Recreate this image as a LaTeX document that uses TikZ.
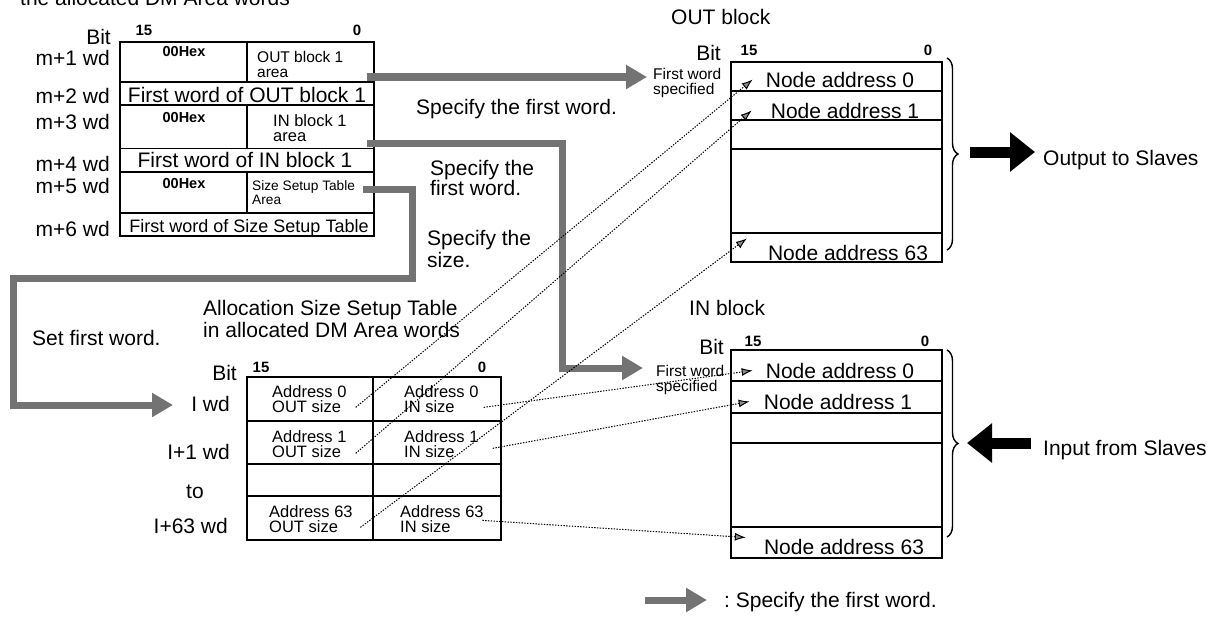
\documentclass[tikz,border=0pt]{standalone}
\usepackage{fontspec}
\setmainfont{Liberation Sans}
\usetikzlibrary{arrows.meta,decorations.pathreplacing}
\begin{document}
\begin{tikzpicture}[x=1pt,y=-1pt,
  txt/.style={inner sep=0pt, font=\fontsize{21}{22}\selectfont},
  txtb/.style={inner sep=0pt, font=\fontsize{18}{20}\selectfont},
  sml/.style={inner sep=0pt, align=left, font=\fontsize{16.5}{15}\selectfont},
  tight/.style={inner sep=0pt, align=left, font=\fontsize{15.5}{14.5}\selectfont},
  tiny/.style={inner sep=0pt, align=left, font=\fontsize{13.7}{12}\selectfont},
  bitnum/.style={inner sep=0pt, font=\fontsize{15}{15}\selectfont\bfseries},
  hex/.style={inner sep=0pt, font=\fontsize{14.5}{15}\selectfont\bfseries},
  tbl/.style={line width=1.6pt},
  grayarrow/.style={draw=black!55, line width=7pt, line join=miter, -{Triangle[length=21pt,width=23pt]}},
  ptr/.style={line width=1pt, dash pattern=on 1.4pt off 1.4pt, -{Latex[length=11pt,width=8pt,fill=black!45]}},
  bigarrow/.style={line width=11pt, -{Triangle[length=25pt,width=38pt]}},
  brc/.style={decorate, decoration={brace, amplitude=11pt}, line width=1.4pt}]
\fill[white] (0,0) rectangle (1218,618);
\useasboundingbox (0,0) rectangle (1218,618);

% ---------- top-left table ----------
\node[txt, anchor=base west] (title) at (20,6) {the allocated DM Area words};
\node[txt, anchor=base east] (bitA) at (111,44.5) {Bit};
\node[bitnum, anchor=base] (hiA) at (144,36) {15};
\node[bitnum, anchor=base] (loA) at (357,36) {0};
\node[txt, anchor=base east] (m1) at (110,65.5) {m+1 wd};
\node[txt, anchor=base east] (m2) at (110,103.5) {m+2 wd};
\node[txt, anchor=base east] (m3) at (110,129.5) {m+3 wd};
\node[txt, anchor=base east] (m4) at (110,171.5) {m+4 wd};
\node[txt, anchor=base east] (m5) at (110,193.5) {m+5 wd};
\node[txt, anchor=base east] (m6) at (110,236.5) {m+6 wd};

\draw[tbl] (120,42) rectangle (374,236);
\draw[tbl] (120,82) -- (374,82) (120,105) -- (374,105) (120,148.5) -- (374,148.5)
           (120,172) -- (374,172) (120,213) -- (374,213);
\draw[tbl] (247,42) -- (247,82) (247,105) -- (247,148.5) (247,172) -- (247,213);

\node[hex, anchor=base] (hx1) at (184,57) {00Hex};
\node[hex, anchor=base] (hx2) at (184,122) {00Hex};
\node[hex, anchor=base] (hx3) at (184,188) {00Hex};
\node[tight, anchor=base west] (ob1) at (257,77.5) {OUT block 1\\area};
\node[sml, anchor=base west] (ib1) at (273,141) {IN block 1\\area};
\node[tiny, anchor=base west] (sst) at (252,204) {Size Setup Table\\Area};
\node[txt, anchor=base] (fwo) at (247,102) {First word of OUT block 1};
\node[txt, anchor=base] (fwi) at (245,167) {First word of IN block 1};
\node[txtb, anchor=base] (fws) at (249,232) {First word of Size Setup Table};

% ---------- middle labels ----------
\node[txt, anchor=base west] (sp1) at (416,114) {Specify the first word.};
\node[txt, anchor=base west, align=left, font=\fontsize{21}{20}\selectfont] (sp2) at (430,195) {Specify the\\first word.};
\node[txt, anchor=base west, align=left, font=\fontsize{21}{22}\selectfont] (sp3) at (427,267) {Specify the\\size.};
\node[txt, anchor=base west] (sfw) at (32,345) {Set first word.};

% ---------- lower table ----------
\node[txt, anchor=base west, align=left, font=\fontsize{21}{22}\selectfont] (alloc) at (203,337) {Allocation Size Setup Table\\in allocated DM Area words};
\node[txt, anchor=base east] (bitC) at (237,380) {Bit};
\node[bitnum, anchor=base] (hiC) at (261,372) {15};
\node[bitnum, anchor=base] (loC) at (482,372) {0};
\node[txt, anchor=base east] (l0) at (230,411) {I wd};
\node[txt, anchor=base east] (l1) at (230,459) {I+1 wd};
\node[txt, anchor=base] (lto) at (195,498) {to};
\node[txt, anchor=base east] (l63) at (228,533) {I+63 wd};

\draw[tbl] (247,377) rectangle (501,540);
\draw[tbl] (247,421) -- (501,421) (247,464) -- (501,464) (247,496) -- (501,496);
\draw[tbl] (373,377) -- (373,540);

\node[sml, anchor=base west] (ao0) at (272,412) {Address 0\\OUT size};
\node[sml, anchor=base west] (ai0) at (404,412) {Address 0\\IN size};
\node[sml, anchor=base west] (ao1) at (272,457) {Address 1\\OUT size};
\node[sml, anchor=base west] (ai1) at (404,457) {Address 1\\IN size};
\node[sml, anchor=base west] (ao63) at (269,532) {Address 63\\OUT size};
\node[sml, anchor=base west] (ai63) at (400,532) {Address 63\\IN size};

% ---------- OUT block ----------
\node[txt, anchor=base west] (outt) at (671,25) {OUT block};
\node[txt, anchor=base east] (bitB) at (721,61) {Bit};
\node[bitnum, anchor=base] (hiB) at (749,56) {15};
\node[bitnum, anchor=base] (loB) at (928,56) {0};
\node[tight, anchor=base west] (fw1) at (653,94.5) {First word\\specified};
\draw[tbl] (731,62) rectangle (942,262);
\draw[tbl] (731,91) -- (942,91) (731,120) -- (942,120) (731,149) -- (942,149) (731,233) -- (942,233);
\node[txt, anchor=base] (n0) at (840,87) {Node address 0};
\node[txt, anchor=base] (n1) at (845,118) {Node address 1};
\node[txt, anchor=base] (n63) at (848,260) {Node address 63};
\draw[brc] (947,58) -- (947,250);
\node[txt, anchor=base west] (outs) at (1043,165) {Output to Slaves};
\coordinate (bo1) at (970,152);
\coordinate (bo2) at (1035,152);
\draw[bigarrow] (bo1) -- (bo2);

% ---------- IN block ----------
\node[txt, anchor=base west] (int) at (689,315) {IN block};
\node[txt, anchor=base east] (bitD) at (724,354) {Bit};
\node[bitnum, anchor=base] (hiD) at (753,346) {15};
\node[bitnum, anchor=base] (loD) at (925,346) {0};
\node[tight, anchor=base west] (fw2) at (656,391) {First word\\specified};
\draw[tbl] (731,350) rectangle (942,558);
\draw[tbl] (731,381) -- (942,381) (731,413) -- (942,413) (731,443) -- (942,443) (731,527) -- (942,527);
\node[txt, anchor=base] (in0) at (840,378) {Node address 0};
\node[txt, anchor=base] (in1) at (838,409) {Node address 1};
\node[txt, anchor=base] (in63) at (844,554) {Node address 63};
\draw[brc] (947,350) -- (947,537);
\node[txt, anchor=base west] (ins) at (1043,455) {Input from Slaves};
\coordinate (bi1) at (1031,443);
\coordinate (bi2) at (967,443);
\draw[bigarrow] (bi1) -- (bi2);

% ---------- gray arrows ----------
\coordinate (g1s) at (367,77);
\coordinate (g1e) at (647,77);
\draw[grayarrow] (g1s) -- (g1e);
\coordinate (g2s) at (367,143);
\coordinate (g2a) at (562,143);
\coordinate (g2b) at (562,368);
\coordinate (g2e) at (643,368);
\draw[grayarrow] (g2s) -- (g2a) -- (g2b) -- (g2e);
\coordinate (g3s) at (363,189);
\coordinate (g3a) at (412,189);
\coordinate (g3b) at (412,278);
\coordinate (g3c) at (13,278);
\coordinate (g3d) at (13,405);
\coordinate (g3e) at (173,405);
\draw[grayarrow] (g3s) -- (g3a) -- (g3b) -- (g3c) -- (g3d) -- (g3e);

% ---------- dotted pointers ----------
\draw[ptr] ([xshift=9pt,yshift=5pt]ao0.south east) -- ([xshift=-13pt]n0.west);
\draw[ptr] ([xshift=9pt,yshift=4pt]ao1.south east) -- ([xshift=-19pt]n1.west);
\draw[ptr] ([xshift=7.5pt,yshift=5pt]ao63.south east) -- ([xshift=-21pt,yshift=14pt]n63.west);
\draw[ptr] ([xshift=5pt,yshift=5pt]ai0.south east) -- ([xshift=-13pt]in0.west);
\draw[ptr] ([xshift=14pt,yshift=9pt]ai1.south east) -- ([xshift=-14pt]in1.west);
\draw[ptr] ([xshift=-1.5pt,yshift=12pt]ai63.south east) -- ([xshift=-18pt,yshift=9pt]in63.west);

% ---------- legend ----------
\coordinate (lgs) at (645,600);
\coordinate (lge) at (707,600);
\draw[grayarrow] (lgs) -- (lge);
\node[txt, anchor=base west] (lgt) at (724,607) {:~Specify the first word.};
\end{tikzpicture}
\end{document}
